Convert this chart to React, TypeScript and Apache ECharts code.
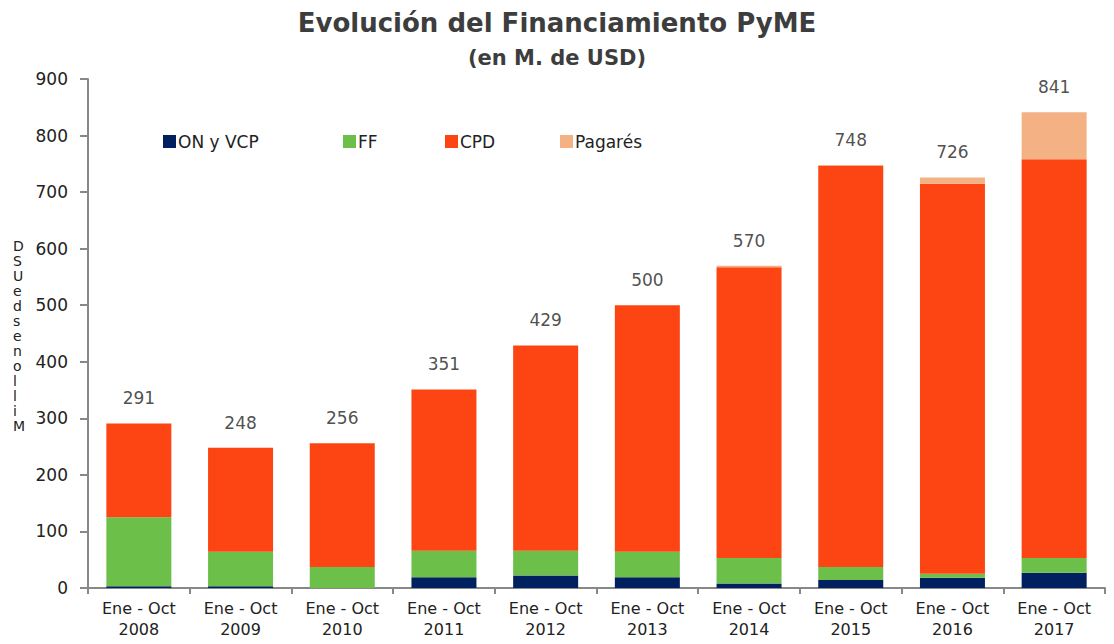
import React, { useEffect, useRef } from "react";
import * as echarts from "echarts";

const categories = [
  "Ene - Oct\n2008", "Ene - Oct\n2009", "Ene - Oct\n2010", "Ene - Oct\n2011", "Ene - Oct\n2012",
  "Ene - Oct\n2013", "Ene - Oct\n2014", "Ene - Oct\n2015", "Ene - Oct\n2016", "Ene - Oct\n2017",
];
const onVcp = [3, 3, 0, 19, 22, 19, 8, 14, 18, 27];
const ff = [122, 61, 37, 47, 44, 45, 45, 23, 7, 26];
const cpd = [166, 184, 219, 285, 363, 436, 514, 709, 690, 705];
const pagares = [0, 0, 0, 0, 0, 0, 3, 2, 11, 83];
const totals = [291, 248, 256, 351, 429, 500, 570, 748, 726, 841];
const yTicks = [0, 100, 200, 300, 400, 500, 600, 700, 800, 900];
const yAxisLetters = ["D", "S", "U", "e", "d", "s", "e", "n", "o", "l", "l", "i", "M"];

const FONT = "'DejaVu Sans', 'Noto Sans', sans-serif";
const colors = { on: "#002060", ff: "#6CC04A", cpd: "#FC4512", pag: "#F4B183" };

export default function App() {
  const ref = useRef<HTMLDivElement>(null);
  useEffect(() => {
    document.body.style.margin = "0";
    if (!ref.current) return;
    const chart = echarts.init(ref.current, null, { renderer: "svg" });
    const legendItem = (name: string, left: number) => ({
      data: [name],
      left,
      top: 128,
      icon: "rect",
      itemWidth: 13,
      itemHeight: 13,
      textStyle: { fontFamily: FONT, fontSize: 17, color: "#222", padding: [0, 0, 0, -3] },
      selectedMode: false,
    });
    const barBase = { type: "bar", stack: "total", barWidth: 65 };
    chart.setOption({
      animation: false,
      textStyle: { fontFamily: FONT },
      title: [
        {
          text: "Evolución del Financiamiento PyME",
          left: "center",
          top: 5,
          textStyle: { fontFamily: FONT, fontSize: 26, fontWeight: "bold", color: "#3d3d3d" },
        },
        {
          text: "(en M. de USD)",
          left: "center",
          top: 42,
          textStyle: { fontFamily: FONT, fontSize: 21, fontWeight: "bold", color: "#3d3d3d" },
        },
      ],
      legend: [
        legendItem("ON y VCP", 158),
        legendItem("FF", 338),
        legendItem("CPD", 440),
        legendItem("Pagarés", 555),
      ],
      grid: { left: 88, right: 9, top: 79, bottom: 56 },
      xAxis: {
        type: "category",
        data: categories,
        axisLine: { lineStyle: { color: "#888", width: 2 } },
        axisTick: { show: true, length: 6, lineStyle: { color: "#888", width: 2 } },
        axisLabel: { fontFamily: FONT, fontSize: 16, color: "#222", lineHeight: 21, margin: 10 },
      },
      yAxis: {
        type: "value",
        min: yTicks[0],
        max: yTicks[yTicks.length - 1],
        interval: 100,
        splitLine: { show: false },
        axisLine: { show: true, lineStyle: { color: "#888", width: 2 } },
        axisTick: { show: true, length: 8, lineStyle: { color: "#888", width: 2 } },
        axisLabel: { fontFamily: FONT, fontSize: 17, color: "#222", margin: 20 },
      },
      graphic: [
        {
          type: "text",
          left: 13,
          top: 238,
          style: {
            text: yAxisLetters.join("\n"),
            fontFamily: FONT,
            fontSize: 14,
            lineHeight: 15,
            fill: "#222",
          },
        },
      ],
      series: [
        { ...barBase, name: "ON y VCP", data: onVcp, itemStyle: { color: colors.on } },
        { ...barBase, name: "FF", data: ff, itemStyle: { color: colors.ff } },
        { ...barBase, name: "CPD", data: cpd, itemStyle: { color: colors.cpd } },
        { ...barBase, name: "Pagarés", data: pagares, itemStyle: { color: colors.pag } },
        {
          type: "scatter",
          name: "Total",
          data: totals,
          symbolSize: 1,
          itemStyle: { color: "rgba(0,0,0,0)" },
          label: {
            show: true,
            position: "top",
            distance: 16,
            fontFamily: FONT,
            fontSize: 17,
            color: "#222",
          },
          silent: true,
        },
      ],
    });
    return () => chart.dispose();
  }, []);
  return <div ref={ref} style={{ width: 1114, height: 644 }} />;
}
